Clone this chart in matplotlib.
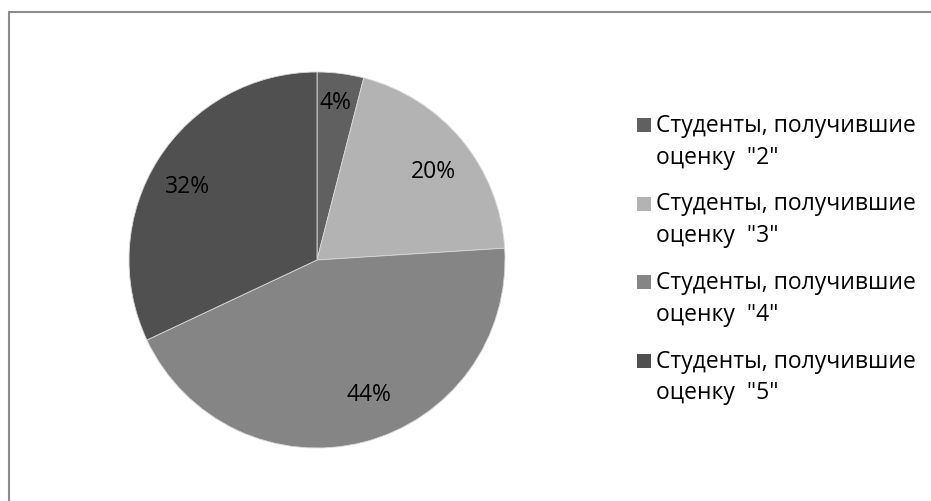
import matplotlib
matplotlib.use("Agg")
import matplotlib.pyplot as plt
from matplotlib.patches import Rectangle

categories = ['Студенты, получившие\nоценку  "2"',
              'Студенты, получившие\nоценку  "3"',
              'Студенты, получившие\nоценку  "4"',
              'Студенты, получившие\nоценку  "5"']
values = [4, 20, 44, 32]
colors = ['#606060', '#b3b3b3', '#858585', '#505050']

# label placement (axes units, radius = 1) as in the reference layout
label_pos = [(0.096, 0.840), (0.617, 0.473), (0.277, -0.713), (-0.691, 0.394)]

plt.rcParams['font.family'] = ['Open Sans', 'DejaVu Sans']

W, H = 931, 502
fig = plt.figure(figsize=(W / 100, H / 100), dpi=100)
fig.patch.set_facecolor('white')

# outer border (left and top visible)
fig.add_artist(Rectangle((8.5 / W, -0.1), 1.2, (H - 12.5) / H + 0.1,
                         transform=fig.transFigure, fill=False,
                         edgecolor='#8c8c8c', linewidth=1.5))

cx, cy, R = 317, 261, 188
ax = fig.add_axes([(cx - R) / W, (H - cy - R) / H, 2 * R / W, 2 * R / H])
wedges, texts, autotexts = ax.pie(values, colors=colors, startangle=90,
                                  counterclock=False,
                                  autopct=lambda p: f'{p:.0f}%',
                                  pctdistance=0.8,
                                  wedgeprops=dict(edgecolor='#d9d9d9', linewidth=0.6))
for t, pos in zip(autotexts, label_pos):
    t.set_fontsize(16.5)
    t.set_color('#000000')
    t.set_position(pos)
ax.set_xlim(-1, 1)
ax.set_ylim(-1, 1)
ax.set_aspect('equal')

# legend
y0, step = 126, 78.5
for i, (lab, col) in enumerate(zip(categories, colors)):
    y = y0 + i * step
    fig.add_artist(Rectangle((637 / W, (H - y - 7) / H), 14 / W, 14 / H,
                             transform=fig.transFigure, facecolor=col,
                             edgecolor='none'))
    l1, l2 = lab.split('\n')
    fig.text(656 / W, (H - y) / H, l1, fontsize=16.5,
             va='center', ha='left', color='#000000')
    fig.text(656 / W, (H - y - 32) / H, l2, fontsize=16.5,
             va='center', ha='left', color='#000000')

fig.savefig('out.png', dpi=100)
